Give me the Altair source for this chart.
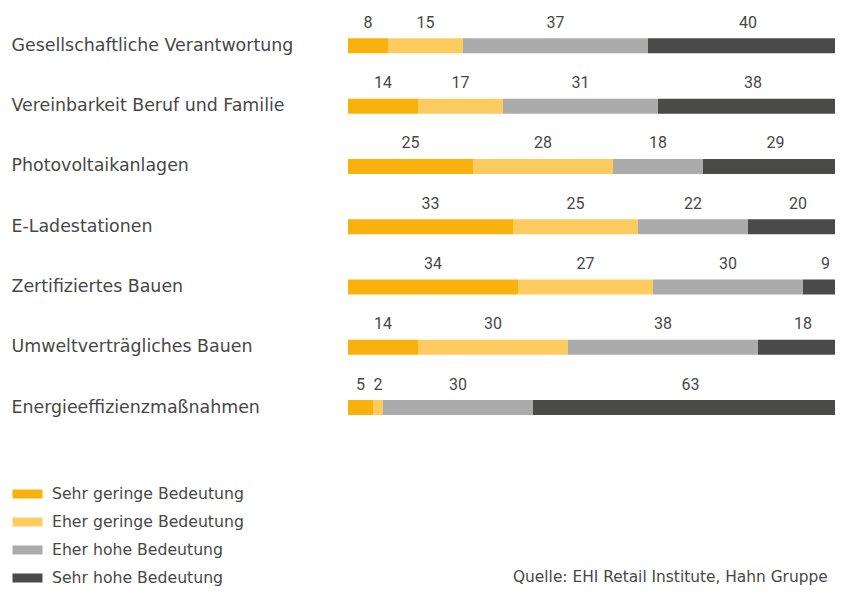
import altair as alt
import pandas as pd

categories = [
    "Gesellschaftliche Verantwortung",
    "Vereinbarkeit Beruf und Familie",
    "Photovoltaikanlagen",
    "E-Ladestationen",
    "Zertifiziertes Bauen",
    "Umweltverträgliches Bauen",
    "Energieeffizienzmaßnahmen",
]
series_names = [
    "Sehr geringe Bedeutung",
    "Eher geringe Bedeutung",
    "Eher hohe Bedeutung",
    "Sehr hohe Bedeutung",
]
sehr_gering = [8, 14, 25, 33, 34, 14, 5]
eher_gering = [15, 17, 28, 25, 27, 30, 2]
eher_hoch = [37, 31, 18, 22, 30, 38, 30]
sehr_hoch = [40, 38, 29, 20, 9, 18, 63]
colors = ["#F9B10B", "#FECB5F", "#ABABAB", "#4A4A49"]
source = "Quelle: EHI Retail Institute, Hahn Gruppe"

rows = []
for i, cat in enumerate(categories):
    start = 0
    for j, vals in enumerate([sehr_gering, eher_gering, eher_hoch, sehr_hoch]):
        v = vals[i]
        rows.append({"Kategorie": cat, "Serie": series_names[j], "order": j,
                     "value": v, "start": start, "end": start + v,
                     "mid": start + v / 2})
        start += v
df = pd.DataFrame(rows)

TEXT = "#474747"
FONT = "DejaVu Sans"

y = alt.Y("Kategorie:N", sort=categories,
          scale=alt.Scale(paddingInner=0, paddingOuter=0),
          axis=alt.Axis(title=None, ticks=False, domain=False, grid=False,
                        labelAlign="left", labelPadding=337, labelFontSize=17.4,
                        labelFont=FONT, labelColor=TEXT, labelLimit=330))
xscale = alt.Scale(domain=[0, 97.4], nice=False, zero=False)

bars = alt.Chart(df).mark_bar(size=15, clip=True).encode(
    x=alt.X("start:Q", scale=xscale, axis=None),
    x2="end:Q",
    y=y,
    color=alt.Color("Serie:N", sort=series_names,
                    scale=alt.Scale(domain=series_names, range=colors),
                    legend=alt.Legend(orient="none", legendX=-334.5, legendY=464.3,
                                      title=None,
                                      symbolType="M-1.0714,-0.3214L1.0714,-0.3214L1.0714,0.3214L-1.0714,0.3214Z",
                                      symbolSize=784, symbolStrokeWidth=0,
                                      labelFontSize=15.7, labelFont=FONT,
                                      labelColor=TEXT, labelOffset=10.5, rowPadding=6,
                                      padding=0, labelLimit=300)),
    order="order:Q",
)

labels = alt.Chart(df).mark_text(dy=-23, fontSize=16, font="Roboto", color=TEXT,
                                 baseline="middle").encode(
    x=alt.X("mid:Q", scale=xscale, axis=None),
    y=alt.Y("Kategorie:N", sort=categories),
    text="value:Q",
)

src = alt.Chart(pd.DataFrame({"t": [source]})).mark_text(
    align="left", baseline="middle", fontSize=15.4, font=FONT, color=TEXT
).encode(x=alt.value(165), y=alt.value(561.3), text="t:N")

chart = alt.layer(bars, labels, src).properties(
    width=487, height=422,
    background="white",
    autosize=alt.AutoSizeParams(type="none"),
    padding={"left": 340, "top": 7.7, "right": 0, "bottom": 148.3},
).configure_view(stroke=None)

chart.save("out.html", embed_options={"renderer": "svg", "actions": False})
